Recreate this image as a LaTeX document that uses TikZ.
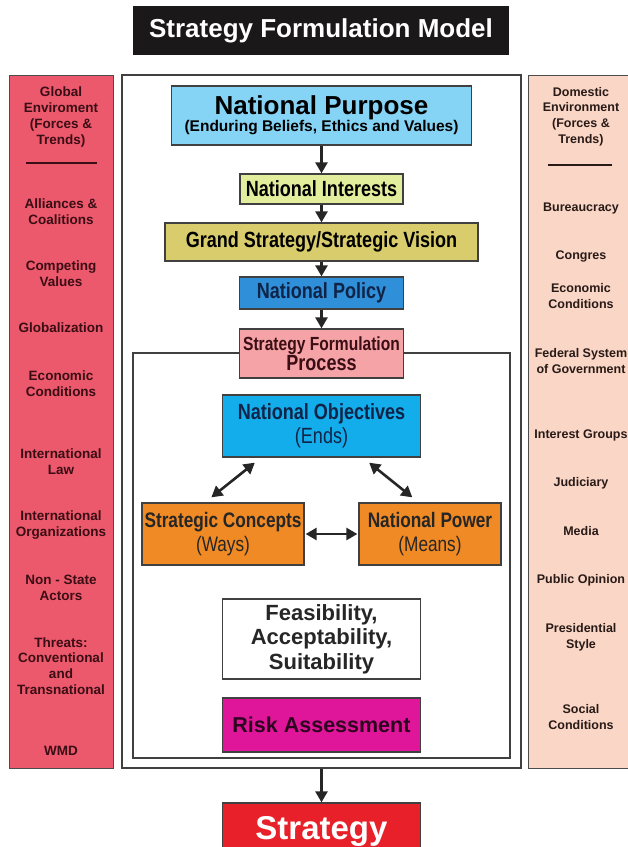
\documentclass[tikz,border=0pt]{standalone}
\usepackage{fontspec}
\setmainfont{Liberation Sans}
\newfontfamily\narrowfont[FakeStretch=0.82]{Liberation Sans}
\usetikzlibrary{arrows.meta}
\definecolor{titleblack}{RGB}{26,24,24}
\definecolor{globalred}{RGB}{236,88,108}
\definecolor{globaltext}{RGB}{58,14,20}
\definecolor{domesticpeach}{RGB}{250,214,198}
\definecolor{domestictext}{RGB}{40,26,22}
\definecolor{purposeblue}{RGB}{134,212,245}
\definecolor{interestgreen}{RGB}{227,238,156}
\definecolor{grandkhaki}{RGB}{217,204,108}
\definecolor{policyblue}{RGB}{47,143,216}
\definecolor{processpink}{RGB}{245,163,166}
\definecolor{objectiveblue}{RGB}{19,173,235}
\definecolor{waysorange}{RGB}{240,138,36}
\definecolor{riskmagenta}{RGB}{224,22,154}
\definecolor{strategyred}{RGB}{232,32,42}
\definecolor{navytext}{RGB}{16,36,72}
\tikzset{>={Triangle[length=11pt,width=12pt]}}
\tikzset{
  panel/.style = {draw=black!70, line width=1pt, inner sep=0pt, minimum height=693pt},
  flowbox/.style = {draw=black!75, line width=1.3pt, inner sep=0pt, align=center},
  lefttext/.style = {align=center, inner sep=0pt, text=globaltext,
    font=\bfseries\fontsize{13.5}{15.7}\selectfont},
  righttext/.style = {align=center, inner sep=0pt, text=domestictext,
    font=\bfseries\fontsize{12.5}{15.7}\selectfont},
  flowarrow/.style = {->, line width=2.6pt, draw=black!85},
  bothways/.style = {<->, line width=2.6pt, draw=black!85}
}

\begin{document}
\begin{tikzpicture}[x=1pt,y=-1pt]
  \useasboundingbox (0,0) rectangle (628,847);
  \node[fill=titleblack, minimum width=376pt, minimum height=49pt, inner sep=0pt,
    text=white, font=\bfseries\fontsize{26}{30}\selectfont] (title) at (321,30.5) {Strategy Formulation Model};

  % side panels
  \node[panel, fill=globalred, minimum width=104pt] (global) at (61,421.5) {};
  \node[panel, fill=domesticpeach, minimum width=106pt] (domestic) at (581,421.5) {};

  \node[lefttext] (glhead) at (61,117) {Global\\Enviroment\\(Forces \&\\Trends)};
  \draw[globaltext, line width=1.6pt] (26,163) -- (97,163);
  \node[lefttext] (alliances) at (61,212) {Alliances \&\\Coalitions};
  \node[lefttext] (values) at (61,274) {Competing\\Values};
  \node[lefttext] (globalization) at (61,328) {Globalization};
  \node[lefttext] (gleconomic) at (61,384) {Economic\\Conditions};
  \node[lefttext] (law) at (61,462) {International\\Law};
  \node[lefttext] (organizations) at (61,525) {International\\Organizations};
  \node[lefttext] (nonstate) at (61,588) {Non - State\\Actors};
  \node[lefttext] (threats) at (61,666) {Threats:\\Conventional\\and\\Transnational};
  \node[lefttext] (wmd) at (61,751) {WMD};

  \node[righttext] (dohead) at (581,116.5) {Domestic\\Environment\\(Forces \&\\Trends)};
  \draw[domestictext, line width=1.3pt] (548,165) -- (612,165);
  \node[righttext] (bureaucracy) at (581,208) {Bureaucracy};
  \node[righttext] (congres) at (581,256) {Congres};
  \node[righttext] (doeconomic) at (581,296) {Economic\\Conditions};
  \node[righttext] (federal) at (581,361) {Federal System\\of Government};
  \node[righttext] (groups) at (581,435) {Interest Groups};
  \node[righttext] (judiciary) at (581,483) {Judiciary};
  \node[righttext] (media) at (581,531) {Media};
  \node[righttext] (opinion) at (581,580) {Public Opinion};
  \node[righttext] (presidential) at (581,637) {Presidential\\Style};
  \node[righttext] (social) at (581,717) {Social\\Conditions};

  % centre column
  \node[draw=black!75, line width=1.3pt, minimum width=399pt, minimum height=693pt] (frame) at (321.5,421.5) {};
  \node[draw=black!75, line width=1.3pt, minimum width=377pt, minimum height=405pt] (proc) at (321.5,555.5) {};

  \node[flowbox, fill=purposeblue, minimum width=300pt, minimum height=59pt] (purpose) at (321.5,115.5)
    {\bfseries\fontsize{26}{27}\selectfont National Purpose\\[-1pt]
     \bfseries\fontsize{15.5}{17}\selectfont (Enduring Beliefs, Ethics and Values)};
  \node[flowbox, fill=interestgreen, minimum width=163pt, minimum height=30pt,
    font=\narrowfont\bfseries\fontsize{22}{24}\selectfont] (interests) at (321.5,189) {National Interests};
  \node[flowbox, fill=grandkhaki, minimum width=313pt, minimum height=38pt,
    font=\narrowfont\bfseries\fontsize{22}{24}\selectfont] (grand) at (321.5,242) {Grand Strategy/Strategic Vision};
  \node[flowbox, fill=policyblue, minimum width=164pt, minimum height=32pt, text=navytext,
    font=\narrowfont\bfseries\fontsize{22}{24}\selectfont] (policy) at (321.5,293) {National Policy};
  \node[flowbox, fill=processpink, minimum width=164pt, minimum height=49pt, text=globaltext,
    font=\narrowfont\bfseries] (process) at (321.5,353.5)
    {\fontsize{19}{23}\selectfont Strategy Formulation\\ \fontsize{22}{23}\selectfont Process};

  \node[flowbox, fill=objectiveblue, minimum width=198pt, minimum height=62pt, text=navytext,
    font=\narrowfont\fontsize{22}{24}\selectfont] (objectives) at (321.5,426)
    {\bfseries National Objectives\\(Ends)};
  \node[flowbox, fill=waysorange, minimum width=162pt, minimum height=62pt, text=black!85,
    font=\narrowfont\fontsize{21}{24}\selectfont] (concepts) at (223,534)
    {\bfseries Strategic Concepts\\(Ways)};
  \node[flowbox, fill=waysorange, minimum width=142pt, minimum height=62pt, text=black!85,
    font=\narrowfont\fontsize{21}{24}\selectfont] (power) at (430,534)
    {\bfseries National Power\\(Means)};
  \node[flowbox, fill=white, minimum width=198pt, minimum height=80pt, text=black!85,
    font=\bfseries\fontsize{22}{24.5}\selectfont] (feasibility) at (321.5,639)
    {Feasibility,\\Acceptability,\\Suitability};
  \node[flowbox, fill=riskmagenta, minimum width=198pt, minimum height=54pt, text=black!80!riskmagenta,
    font=\bfseries\fontsize{21.5}{24}\selectfont] (risk) at (321.5,725) {Risk Assessment};
  \node[flowbox, fill=strategyred, minimum width=198pt, minimum height=57pt, text=white,
    font=\bfseries\fontsize{33}{36}\selectfont] (strategy) at (321.5,831.5) {Strategy};

  % arrows
  \draw[flowarrow] (purpose.south) -- (interests.north);
  \draw[flowarrow] (interests.south) -- (grand.north);
  \draw[flowarrow] (grand.south) -- (policy.north);
  \draw[flowarrow] (policy.south) -- (process.north);
  \draw[bothways] ([xshift=33pt,yshift=-5pt]objectives.south west) -- ([xshift=70pt,yshift=5pt]concepts.north west);
  \draw[bothways] ([xshift=-52pt,yshift=-5pt]objectives.south east) -- ([xshift=54pt,yshift=5pt]power.north west);
  \draw[bothways] ([xshift=1pt]concepts.east) -- ([xshift=-1pt]power.west);
  \draw[flowarrow] (frame.south) -- (strategy.north);
\end{tikzpicture}
\end{document}
